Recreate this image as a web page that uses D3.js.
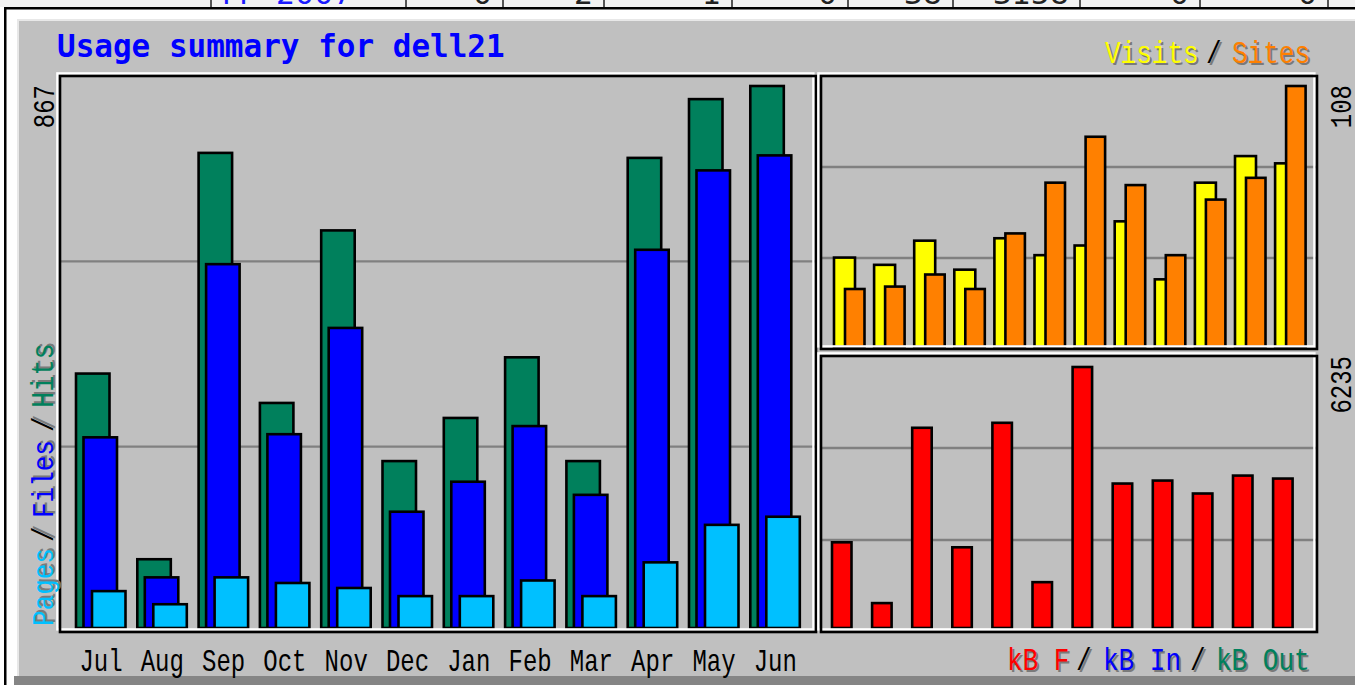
<!DOCTYPE html>
<html>
<head>
<meta charset="utf-8">
<script src="https://cdn.jsdelivr.net/npm/d3@7"></script>
<style>
  html, body { margin: 0; padding: 0; background: #fff; }
  svg { display: block; }
</style>
</head>
<body>
<div id="graph-container"></div>
<script>
// dati del grafico
var months = ["Jul", "Aug", "Sep", "Oct", "Nov", "Dec", "Jan", "Feb", "Mar", "Apr", "May", "Jun"];
var hits   = [407, 110, 760, 360, 636, 267, 336, 433, 267, 752, 846, 867];
var files  = [305, 81, 582, 310, 480, 186, 234, 323, 213, 605, 732, 756];
var pages  = [59, 38, 81, 72, 64, 51, 51, 76, 51, 105, 165, 178];
var visits = [37, 34, 44, 32, 45, 38, 42, 52, 28, 68, 79, 76];
var sites  = [24, 25, 30, 24, 47, 68, 87, 67, 38, 61, 70, 108];
var kbytes = [2047, 595, 4783, 1928, 4902, 1095, 6235, 3451, 3522, 3213, 3641, 3570];

// riga della tabella sopra (tagliata)
var prevRowLabel = ["M", "2007"];
var prevRowValues = ["0", "2", "1", "0", "38", "3158", "0", "0"];

var width = 1355, height = 685;
var mono = "'Liberation Mono', 'DejaVu Sans Mono', monospace";

var svg = d3.select("#graph-container").append("svg")
  .attr("width", width)
  .attr("height", height);

// --- striscia della tabella in alto ---
var strip = svg.append("g");
svg.append("clipPath").attr("id", "stripClip")
  .append("rect").attr("x", 0).attr("y", 0).attr("width", width).attr("height", 7);
strip.attr("clip-path", "url(#stripClip)");
strip.append("rect").attr("x", 0).attr("y", 0).attr("width", width).attr("height", 7).attr("fill", "#f2f2f2");
var sepX = [210, 405, 502, 603, 731, 847, 952, 1079, 1199, 1327];
sepX.forEach(function (x) {
  strip.append("rect").attr("x", x).attr("y", 0).attr("width", 2).attr("height", 7).attr("fill", "#555");
});
strip.append("text").attr("x", 222).attr("y", 4).text(prevRowLabel[0])
  .attr("font-family", "DejaVu Sans").attr("font-size", 30).attr("fill", "#1a1aff");
strip.append("text").attr("x", 276).attr("y", 4).text(prevRowLabel[1])
  .attr("font-family", "DejaVu Sans").attr("font-size", 30).attr("fill", "#1a1aff");
prevRowValues.forEach(function (v, i) {
  strip.append("text").attr("x", sepX[i + 2] - 10).attr("y", 4).text(v)
    .attr("text-anchor", "end")
    .attr("font-family", "DejaVu Sans").attr("font-size", 30).attr("fill", "#222");
});

// bordi della pagina
svg.append("rect").attr("x", 4).attr("y", 7).attr("width", width).attr("height", 2.5).attr("fill", "#000");
svg.append("rect").attr("x", 4).attr("y", 7).attr("width", 2.5).attr("height", height).attr("fill", "#000");

// sfondo grigio del grafico
svg.append("rect").attr("x", 17).attr("y", 19).attr("width", width).attr("height", 660).attr("fill", "#e8e8e8");
svg.append("rect").attr("x", 19).attr("y", 21).attr("width", width).attr("height", 655).attr("fill", "#c0c0c0");
svg.append("rect").attr("x", 14).attr("y", 676).attr("width", width).attr("height", 10).attr("fill", "#858585");

// funzione per i testi "pixel font"
function label(g, x, y, str, color, size, opts) {
  opts = opts || {};
  var t = g.append("text")
    .attr("transform", "translate(" + x + "," + y + ")" + (opts.rotate ? " rotate(-90)" : "") + " scale(1," + (opts.sy || 1.2) + ")")
    .attr("font-family", opts.family || mono)
    .attr("font-size", size)
    .attr("font-weight", opts.bold ? "bold" : "normal")
    .attr("text-anchor", opts.anchor || "start")
    .attr("fill", color)
    .text(str);
  return t;
}
function shadowLabel(g, x, y, str, color, size, opts) {
  opts = opts || {};
  var dx = 2, dy = opts.rotate ? -2 : 2;
  label(g, x + dx, y + dy, str, "#7a7a7a", size, opts);
  label(g, x, y, str, color, size, opts);
}

// pannello con bordo nero e riflesso bianco
function panel(x0, y0, x1, y1) {
  svg.append("rect").attr("x", x0 - 2.6).attr("y", y0 - 2.6).attr("width", x1 - x0).attr("height", y1 - y0)
    .attr("fill", "none").attr("stroke", "#fff").attr("stroke-width", 2.4);
  return svg.append("rect").attr("x", x0).attr("y", y0).attr("width", x1 - x0).attr("height", y1 - y0)
    .attr("fill", "none").attr("stroke", "#000").attr("stroke-width", 2.6);
}
function gridlines(x0, y0, x1, y1) {
  [1, 2].forEach(function (k) {
    var yy = y0 + k * (y1 - y0) / 3;
    svg.append("line").attr("x1", x0).attr("x2", x1).attr("y1", yy).attr("y2", yy)
      .attr("stroke", "#808080").attr("stroke-width", 2.4);
  });
}

// --- pannello sinistro: Hits / Files / Pages ---
var L = { x0: 60, y0: 76, x1: 816, y1: 632 };
gridlines(L.x0, L.y0, L.x1, L.y1);

var xL = d3.scaleBand().domain(months).range([76, 76 + 12 * 61.3]);
var yL = d3.scaleLinear().domain([0, d3.max(hits)]).range([628, 86]);

var series = [
  { data: hits, color: "#00805c", off: 0 },
  { data: files, color: "#0000ff", off: 7.5 },
  { data: pages, color: "#00c0ff", off: 16 }
];
series.forEach(function (s) {
  svg.append("g").selectAll("rect").data(months).enter().append("rect")
    .attr("x", function (m) { return xL(m) + s.off; })
    .attr("y", function (m, i) { return yL(s.data[i]); })
    .attr("width", 33.5)
    .attr("height", function (m, i) { return yL(0) - yL(s.data[i]); })
    .attr("fill", s.color)
    .attr("stroke", "#000").attr("stroke-width", 2.6);
});
panel(L.x0, L.y0, L.x1, L.y1);

// --- pannello destro alto: Visits / Sites ---
var T = { x0: 821, y0: 76, x1: 1317, y1: 349 };
gridlines(T.x0, T.y0, T.x1, T.y1);
var xT = d3.scaleBand().domain(months).range([834, 834 + 12 * 40.1]);
var yT = d3.scaleLinear().domain([0, d3.max(sites)]).range([347, 86]);
[{ data: visits, color: "#ffff00", off: 0, w: 21 }, { data: sites, color: "#ff8000", off: 11, w: 19.5 }].forEach(function (s) {
  svg.append("g").selectAll("rect").data(months).enter().append("rect")
    .attr("x", function (m) { return xT(m) + s.off; })
    .attr("y", function (m, i) { return yT(s.data[i]); })
    .attr("width", s.w)
    .attr("height", function (m, i) { return yT(0) - yT(s.data[i]); })
    .attr("fill", s.color)
    .attr("stroke", "#000").attr("stroke-width", 2.6);
});
panel(T.x0, T.y0, T.x1, T.y1);

// --- pannello destro basso: kB F ---
var B = { x0: 821, y0: 356, x1: 1317, y1: 632 };
gridlines(B.x0, B.y0, B.x1, B.y1);
var xB = d3.scaleBand().domain(months).range([832, 832 + 12 * 40.1]);
var yB = d3.scaleLinear().domain([0, d3.max(kbytes)]).range([628, 367]);
svg.append("g").selectAll("rect").data(months).enter().append("rect")
  .attr("x", function (m) { return xB(m); })
  .attr("y", function (m, i) { return yB(kbytes[i]); })
  .attr("width", 19.5)
  .attr("height", function (m, i) { return yB(0) - yB(kbytes[i]); })
  .attr("fill", "#ff0000")
  .attr("stroke", "#000").attr("stroke-width", 2.6);
panel(B.x0, B.y0, B.x1, B.y1);

// --- testi ---
var tg = svg.append("g");
label(tg, 57, 57, "Usage summary for dell21", "#0000ff", 31,
  { bold: true, sy: 1.05, family: "'DejaVu Sans Mono', monospace" });

// etichette dei mesi
months.forEach(function (m) {
  label(tg, xL(m) + 25, 671, m, "#000", 24, { anchor: "middle", sy: 1.3 });
});

// valori massimi (verticali)
label(tg, 54, 85, d3.max(hits), "#000", 24, { rotate: true, anchor: "end", sy: 1.2 });
label(tg, 1351, 85, d3.max(sites), "#000", 24, { rotate: true, anchor: "end", sy: 1.2 });
label(tg, 1351, 356, d3.max(kbytes), "#000", 24, { rotate: true, anchor: "end", sy: 1.2 });

// legenda verticale a sinistra
shadowLabel(tg, 53, 626, "Pages", "#00c0ff", 26, { rotate: true, sy: 1.15 });
shadowLabel(tg, 53, 542, "/", "#000", 26, { rotate: true, sy: 1.15 });
shadowLabel(tg, 53, 518, "Files", "#0000ff", 26, { rotate: true, sy: 1.15 });
shadowLabel(tg, 53, 432, "/", "#000", 26, { rotate: true, sy: 1.15 });
shadowLabel(tg, 53, 408, "Hits", "#00805c", 27, { rotate: true, sy: 1.15 });

// legenda in alto a destra
shadowLabel(tg, 1105, 63, "Visits", "#ffff00", 26, { sy: 1.2 });
shadowLabel(tg, 1206, 63, "/", "#000", 26, { sy: 1.2 });
shadowLabel(tg, 1232, 63, "Sites", "#ff8000", 26, { sy: 1.2 });

// legenda in basso a destra
shadowLabel(tg, 1007, 670, "kB F", "#ff0000", 26, { sy: 1.2 });
shadowLabel(tg, 1076, 670, "/", "#000", 26, { sy: 1.2 });
shadowLabel(tg, 1103, 670, "kB In", "#0000ff", 26, { sy: 1.2 });
shadowLabel(tg, 1190, 670, "/", "#000", 26, { sy: 1.2 });
shadowLabel(tg, 1216, 670, "kB Out", "#00805c", 26, { sy: 1.2 });
</script>
</body>
</html>
